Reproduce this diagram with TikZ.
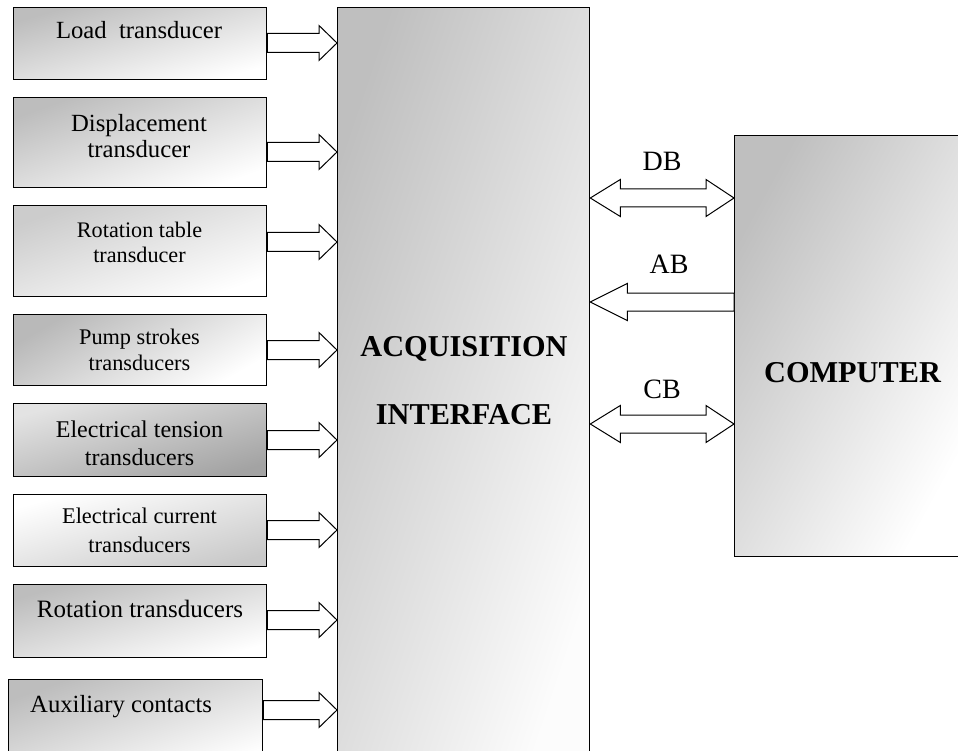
\documentclass[tikz,border=0pt]{standalone}
\usepackage{fontspec}
\setmainfont{Liberation Serif}
\usetikzlibrary{calc}
\newcommand\rfat[2]{%
  \draw[fat] let \p1=(#1), \p2=(#2) in
   (\x1,\y1+9.5pt) -- (\x2-18pt,\y1+9.5pt) -- (\x2-18pt,\y1+17.5pt) -- (\x2,\y1)
   -- (\x2-18pt,\y1-17.5pt) -- (\x2-18pt,\y1-9.5pt) -- (\x1,\y1-9.5pt) -- cycle;}
\newcommand\lfat[2]{%
  \draw[fat] let \p1=(#1), \p2=(#2) in
   (\x1,\y1+9pt) -- (\x2+37pt,\y1+9pt) -- (\x2+37pt,\y1+18.5pt) -- (\x2,\y1)
   -- (\x2+37pt,\y1-18.5pt) -- (\x2+37pt,\y1-9pt) -- (\x1,\y1-9pt) -- cycle;}
\newcommand\dfat[2]{%
  \draw[fat] let \p1=(#1), \p2=(#2) in
   (\x1,\y1) -- (\x1+30pt,\y1+18.5pt) -- (\x1+30pt,\y1+9pt) -- (\x2-28pt,\y1+9pt)
   -- (\x2-28pt,\y1+18.5pt) -- (\x2,\y1) -- (\x2-28pt,\y1-18.5pt) -- (\x2-28pt,\y1-9pt)
   -- (\x1+30pt,\y1-9pt) -- (\x1+30pt,\y1-18.5pt) -- cycle;}
\begin{document}
\begin{tikzpicture}[x=1pt,y=-1pt,
  box/.style={draw=black,line width=1.3pt,anchor=north west,inner sep=0pt},
  grad/.style={top color=gray!52,bottom color=white},
  fat/.style={draw=black,line width=1pt,fill=white,line join=miter},
  lbl/.style={inner sep=0pt,anchor=base},
  bus/.style={font=\fontsize{28}{30}\selectfont,inner sep=0pt,anchor=base},
  big/.style={font=\fontsize{30.3}{32}\selectfont\bfseries,inner sep=0pt,anchor=base}]
\useasboundingbox (0,0) rectangle (958,751);
\fill[white] (0,0) rectangle (958,751);
\clip (0,0) rectangle (958,751);

% interface and computer
\node[box,top color=gray!50,bottom color=gray!2,shading angle=71.4,
      minimum width=252pt,minimum height=750pt] (ifc) at (337,7) {};
\node[box,top color=gray!50,bottom color=white,shading angle=61.4,
      minimum width=230pt,minimum height=421pt] (cmp) at (734,135) {};

% left boxes
\node[box,grad,shading angle=15.9,minimum width=253pt,minimum height=72pt] (b1) at (13,7) {};
\node[box,grad,shading angle=19.6,minimum width=253pt,minimum height=90pt] (b2) at (13,97) {};
\node[box,top color=gray!40,bottom color=white,shading angle=19.8,minimum width=253pt,minimum height=91pt] (b3) at (13,205) {};
\node[box,top color=gray!55,bottom color=white,shading angle=30,minimum width=253pt,minimum height=71pt] (b4) at (13,314) {};
\node[box,top color=gray!22,bottom color=gray!72,shading angle=16.1,minimum width=253pt,minimum height=73pt] (b5) at (13,403) {};
\node[box,top color=white,bottom color=gray!42,shading angle=15.9,minimum width=253pt,minimum height=72pt] (b6) at (13,494) {};
\node[box,grad,shading angle=16.1,minimum width=253pt,minimum height=73pt] (b7) at (13,584) {};
\node[box,grad,shading angle=19.5,minimum width=254pt,minimum height=90pt] (b8) at (8,679) {};

% texts
\node[lbl,font=\fontsize{24.7}{26}\selectfont] (t1) at (139,39) {Load\ \ transducer};
\node[lbl,font=\fontsize{24.7}{26}\selectfont] (t2a) at (139,132) {Displacement};
\node[lbl,font=\fontsize{24.7}{26}\selectfont] (t2b) at (139,158) {transducer};
\node[lbl,font=\fontsize{22.2}{24}\selectfont] (t3a) at (139.5,238) {Rotation table};
\node[lbl,font=\fontsize{22.2}{24}\selectfont] (t3b) at (139.5,263) {transducer};
\node[lbl,font=\fontsize{22.3}{24}\selectfont] (t4a) at (139.5,344) {Pump strokes};
\node[lbl,font=\fontsize{22.3}{24}\selectfont] (t4b) at (139.5,370) {transducers};
\node[lbl,font=\fontsize{24}{26}\selectfont] (t5a) at (139.5,437) {Electrical tension};
\node[lbl,font=\fontsize{24}{26}\selectfont] (t5b) at (139.5,465) {transducers};
\node[lbl,font=\fontsize{22.4}{24}\selectfont] (t6a) at (139.5,523) {Electrical current};
\node[lbl,font=\fontsize{22.4}{24}\selectfont] (t6b) at (139.5,552) {transducers};
\node[lbl,font=\fontsize{25}{27}\selectfont] (t7) at (140,617) {Rotation transducers};
\node[lbl,font=\fontsize{24.7}{26}\selectfont,anchor=base west] (t8) at (30,712) {Auxiliary contacts};

\node[big] (tia) at (464,356) {ACQUISITION};
\node[big] (tib) at (464,424) {INTERFACE};
\node[big] (tc) at (852.5,382) {COMPUTER};

% arrow levels
\coordinate (y1) at (0,43);
\coordinate (y2) at (0,152);
\coordinate (y3) at (0,242);
\coordinate (y4) at (0,350);
\coordinate (y5) at (0,440);
\coordinate (y6) at (0,530);
\coordinate (y7) at (0,620);
\coordinate (y8) at (0,710);
\coordinate (yd) at (0,198);
\coordinate (ya) at (0,302);
\coordinate (yc) at (0,424);

\rfat{b1.east |- y1}{ifc.west |- y1}
\rfat{b2.east |- y2}{ifc.west |- y2}
\rfat{b3.east |- y3}{ifc.west |- y3}
\rfat{b4.east |- y4}{ifc.west |- y4}
\rfat{b5.east |- y5}{ifc.west |- y5}
\rfat{b6.east |- y6}{ifc.west |- y6}
\rfat{b7.east |- y7}{ifc.west |- y7}
\rfat{b8.east |- y8}{ifc.west |- y8}

\dfat{ifc.east |- yd}{cmp.west |- yd}
\lfat{cmp.west |- ya}{ifc.east |- ya}
\dfat{ifc.east |- yc}{cmp.west |- yc}

\node[bus] (ldb) at (662,171) {DB};
\node[bus] (lab) at (669,273) {AB};
\node[bus] (lcb) at (662,398) {CB};
\end{tikzpicture}
\end{document}
